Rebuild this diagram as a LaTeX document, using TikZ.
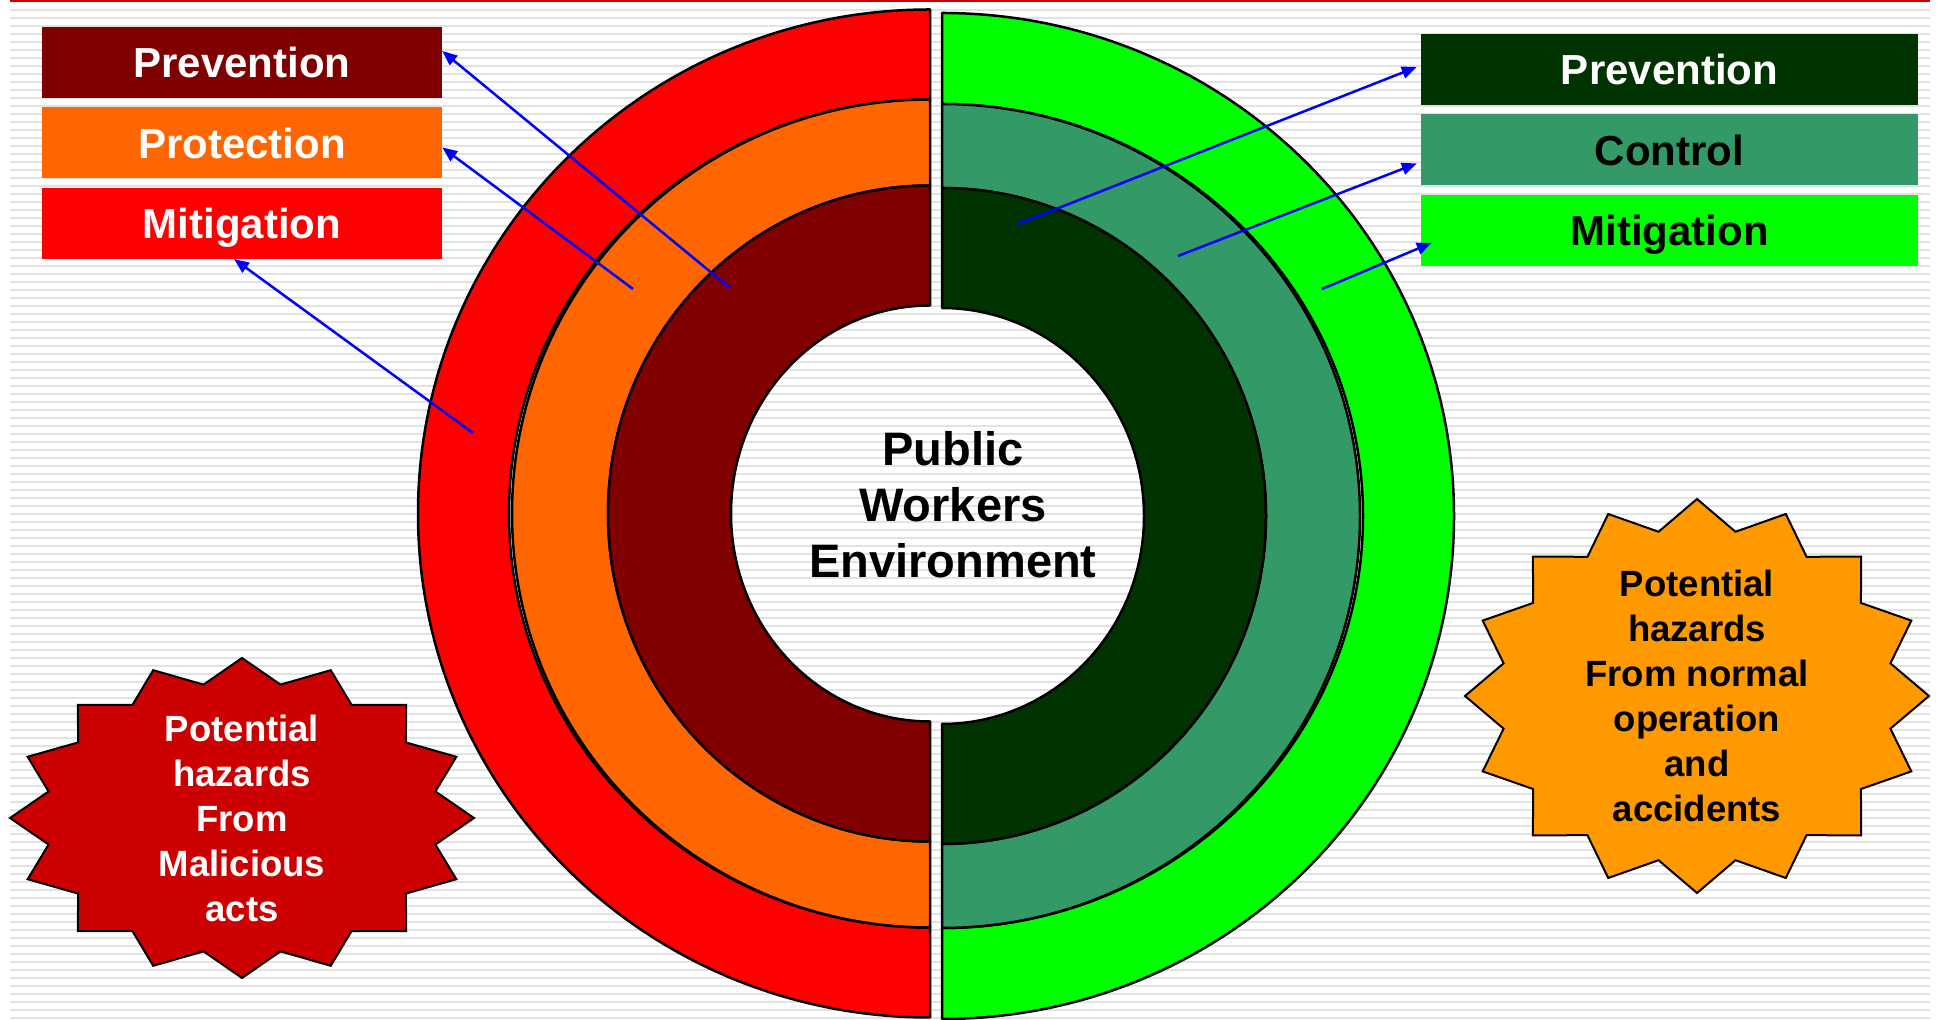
\documentclass[tikz,border=0pt]{standalone}
\usepackage{fontspec}
\setmainfont{Liberation Sans}
\usetikzlibrary{positioning,calc,arrows.meta}
\definecolor{ringRed}{RGB}{255,0,0}
\definecolor{ringOrange}{RGB}{255,102,0}
\definecolor{ringMaroon}{RGB}{128,0,0}
\definecolor{ringGreen}{RGB}{0,255,0}
\definecolor{ringTeal}{RGB}{51,153,102}
\definecolor{ringDark}{RGB}{0,51,0}
\definecolor{burstRed}{RGB}{204,0,0}
\definecolor{burstOrange}{RGB}{255,153,0}
\definecolor{stripegray}{RGB}{226,226,226}
\definecolor{topred}{RGB}{204,0,0}
\tikzset{
  ring-line/.style={draw=black, line width=2.5pt, line join=round},
  burst-line/.style={draw=black, line width=2pt, line join=miter},
  stripe/.style={fill=stripegray},
  label-box/.style={
    minimum width=400pt, minimum height=71pt, inner sep=0pt,
    text height=31pt, text depth=0pt, text=white,
    font={\fontsize{42}{50}\selectfont\bfseries}
  },
  label-wide/.style={label-box, minimum width=497pt},
  burst-text/.style={align=center, font={\fontsize{36.5}{45}\selectfont\bfseries}},
  hub-text/.style={align=center, font={\fontsize{47}{56}\selectfont\bfseries}},
  pointer/.style={draw=blue, line width=2.5pt, -{Triangle[length=15pt,width=12pt]}}
}
% fill, cx, cy, end angle, outer rx, outer ry, inner rx, inner ry
\newcommand{\halfring}[8]{
  \draw[ring-line, fill=#1] (#2,{#3+#6})
    arc[start angle=90, end angle=#4, x radius=#5, y radius=#6]
    -- (#2,{#3-#8})
    arc[start angle=#4, end angle=90, x radius=#7, y radius=#8] -- cycle;
}
% fill, cx, cy, rx, ry
\newcommand{\burst}[5]{
  \draw[burst-line, fill=#1] plot[variable=\k, samples at={0,...,31}]
    ({#2+(1-0.15*mod(\k,2))*#4*cos(\k*11.25)},{#3+(1-0.15*mod(\k,2))*#5*sin(\k*11.25)})
    -- cycle;
}

\begin{document}
\begin{tikzpicture}[x=1pt,y=1pt]
  \useasboundingbox (0,0) rectangle (1939,1020);
  \fill[white] (0,0) rectangle (1939,1020);
  % background lines
  \foreach \k in {0,...,126}{
    \fill[stripe] (10,{1009-8*\k}) rectangle (1930,{1011-8*\k});
  }
  \fill[topred] (10,1018) rectangle (1930,1020);
  % left half
  \halfring{ringRed}{930}{506.5}{270}{512}{504}{421}{414}
  \halfring{ringOrange}{930}{506.5}{270}{418}{414}{322}{328}
  \halfring{ringMaroon}{930}{506.5}{270}{322}{328}{199}{208}
  % right half
  \halfring{ringGreen}{942}{504}{-90}{512}{503}{421}{412}
  \halfring{ringTeal}{942}{504}{-90}{418}{412}{324}{328}
  \halfring{ringDark}{942}{504}{-90}{324}{328}{202}{208}
  \node[hub-text] (hub) at (953,515) {Public\\Workers\\Environment};
  % hazard bursts
  \burst{burstRed}{242}{202}{232}{160}
  \node[burst-text, text=white] (malicious) at (242,202)
    {Potential\\hazards\\From\\Malicious\\acts};
  \burst{burstOrange}{1697}{324}{232}{197}
  \node[burst-text] (normal) at (1697,324)
    {Potential\\hazards\\From normal\\operation\\and\\accidents};
  % labels
  \node[label-box, fill=ringMaroon] (prevL) at (242,957.5) {Prevention};
  \node[label-box, fill=ringOrange, below=9pt of prevL] (protL) {Protection};
  \node[label-box, fill=ringRed, below=9pt of protL] (mitL) {Mitigation};
  \node[label-wide, fill=ringDark] (prevR) at (1669.5,950.5) {Prevention};
  \node[label-wide, fill=ringTeal, text=black, below=9pt of prevR] (ctrlR) {Control};
  \node[label-wide, fill=ringGreen, text=black, below=9pt of ctrlR] (mitR) {Mitigation};
  % pointers
  \coordinate (prevLtail) at (730,732);
  \coordinate (protLtail) at (633,731);
  \coordinate (mitLtail) at (473,587);
  \coordinate (prevRtail) at (1018,796);
  \coordinate (ctrlRtail) at (1178,764);
  \coordinate (mitRtail) at (1322,731);
  \draw[pointer] (prevLtail) -- ($(prevL.east)+(0,11.5)$);
  \draw[pointer] (protLtail) -- ($(protL.east)+(0,-4.5)$);
  \draw[pointer] (mitLtail) -- ($(mitL.south)+(-8,0)$);
  \draw[pointer] (prevRtail) -- ($(prevR.west)+(-4,2.5)$);
  \draw[pointer] (ctrlRtail) -- ($(ctrlR.west)+(-4,-13.5)$);
  \draw[pointer] (mitRtail) -- ($(mitR.west)+(11,-12.5)$);
\end{tikzpicture}
\end{document}
